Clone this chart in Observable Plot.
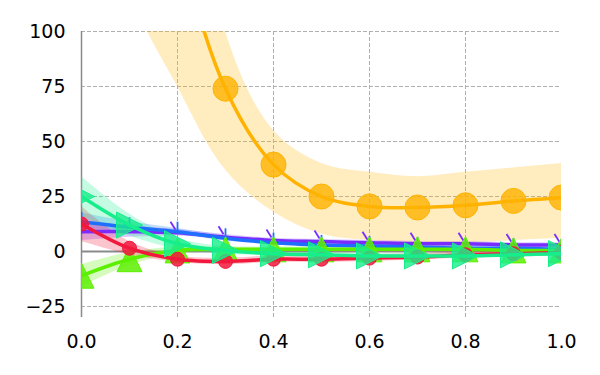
<!DOCTYPE html>
<html>
<head>
<meta charset="utf-8">
<script src="https://cdn.jsdelivr.net/npm/d3@7"></script>
<script src="https://cdn.jsdelivr.net/npm/@observablehq/plot@0.6"></script>
<style>
  html, body { margin: 0; padding: 0; background: #fff; }
  #chart { width: 600px; height: 375px; }
</style>
</head>
<body>
<div id="chart"></div>
<script>
// ---- data ----
const xs = [0, 0.1, 0.2, 0.3, 0.4, 0.5, 0.6, 0.7, 0.8, 0.9, 1.0];
const xTicks = [0, 0.2, 0.4, 0.6, 0.8, 1.0];
const yTicks = [-25, 0, 25, 50, 75, 100];

const orangeY  = [420, 260, 145, 74, 39.5, 25, 20.5, 20, 21, 23, 24.5];
const orangeLo = [250, 120, 75, 37, 18, 8, 5, 4, 4, 5, 6];
const orangeHi = [600, 400, 230, 100, 55, 40, 36, 34, 36, 38, 40];

const purpleY   = [9, 9, 8.5, 6.5, 5, 4.5, 4, 3.5, 3.5, 3, 3];
const purpleErr = [4, 2.5, 1.5, 1.2, 1, 1, 1, 1, 1, 1, 1];

const blueY   = [13.5, 11, 9, 6, 4, 3, 2.5, 2, 1.5, 1.5, 1];
const blueErr = [4, 2.5, 1.5, 1.2, 1, 1, 1, 1, 1, 1, 1];

const limeY   = [-11, -3.5, 0.5, 1, 1, 1, 1, 1, 1, 0.5, 0.5];
const limeErr = [5, 3, 1.5, 1, 1, 1, 1, 1, 1, 1, 1];

const redY   = [12.5, 1.5, -3.5, -4.5, -3.5, -3.5, -3, -2.5, -1.5, -1, -0.5];
const redErr = [8, 3, 1.5, 1.5, 1.5, 1.5, 1.5, 1.5, 1.5, 1.5, 1.5];

const springY   = [25, 12, 3.5, 0.5, -1, -1.5, -2, -2, -2, -1.5, -1];
const springErr = [9, 5, 2.5, 1.5, 1, 1, 1, 1, 1, 1, 1];

// ---- custom symbols (size = pi r^2) ----
const half = size => Math.sqrt(size / Math.PI);
const triUp = { draw(ctx, size) { const s = half(size);
  ctx.moveTo(0, -s); ctx.lineTo(-s, s); ctx.lineTo(s, s); ctx.closePath(); } };
const triRight = { draw(ctx, size) { const s = half(size);
  ctx.moveTo(s, 0); ctx.lineTo(-s, -s); ctx.lineTo(-s, s); ctx.closePath(); } };
const spokeUp = { draw(ctx, size) { const s = half(size);
  ctx.moveTo(0, 0); ctx.lineTo(0, -s); } };
const spokeUL = { draw(ctx, size) { const s = half(size);
  ctx.moveTo(-0.2 * s, -0.3 * s); ctx.lineTo(-0.7 * s, -1.1 * s); } };

function rows(y, lo, hi) {
  return xs.map((x, i) => ({ x, y: y[i], lo: lo[i], hi: hi[i] }));
}
const series = [
  { color: "#ffb300", data: rows(orangeY, orangeLo, orangeHi), symbol: "circle", r: 12.5, fo: 0.8, sw: 1 },
  { color: "#7a2cff", data: rows(purpleY, purpleY.map((v, i) => v - purpleErr[i]), purpleY.map((v, i) => v + purpleErr[i])), symbol: spokeUL, r: 10, line: true },
  { color: "#1f6fff", data: rows(blueY, blueY.map((v, i) => v - blueErr[i]), blueY.map((v, i) => v + blueErr[i])), symbol: spokeUp, r: 10, line: true },
  { color: "#5cf000", data: rows(limeY, limeY.map((v, i) => v - limeErr[i]), limeY.map((v, i) => v + limeErr[i])), symbol: triUp, r: 12.5, fo: 0.85, sw: 1 },
  { color: "#f2183d", data: rows(redY, redY.map((v, i) => v - redErr[i]), redY.map((v, i) => v + redErr[i])), symbol: "circle", r: 7, fo: 0.85, sw: 1 },
  { color: "#16ee8c", data: rows(springY, springY.map((v, i) => v - springErr[i]), springY.map((v, i) => v + springErr[i])), symbol: triRight, r: 13, fo: 0.8, sw: 1 }
];

const marks = [
  Plot.ruleY([-25, 25, 50, 75, 100], { stroke: "#b0b0b0", strokeWidth: 1, strokeDasharray: "4,2" }),
  Plot.ruleX([0.2, 0.4, 0.6, 0.8], { stroke: "#b0b0b0", strokeWidth: 1, strokeDasharray: "4,2" }),
  Plot.ruleY([0], { stroke: "#8a8a8a", strokeWidth: 2 }),
  Plot.ruleX([0], { stroke: "#8a8a8a", strokeWidth: 1.5 })
];
for (const s of series) {
  marks.push(Plot.areaY(s.data, { x: "x", y1: "lo", y2: "hi", fill: s.color, fillOpacity: 0.25, curve: "catmull-rom", clip: true }));
}
for (const s of series) {
  marks.push(Plot.line(s.data, { x: "x", y: "y", stroke: s.color, strokeWidth: 3.5, curve: "catmull-rom", clip: true }));
  if (s.line) {
    marks.push(Plot.dot(s.data, { x: "x", y: "y", symbol: s.symbol, r: s.r, fill: "none", stroke: s.color, strokeWidth: 1.8, clip: true }));
  } else {
    marks.push(Plot.dot(s.data, { x: "x", y: "y", symbol: s.symbol, r: s.r, fill: s.color, fillOpacity: s.fo, stroke: s.color, strokeWidth: s.sw, clip: true }));
  }
}

const chart = Plot.plot({
  width: 600,
  height: 375,
  marginLeft: 81,
  marginRight: 39,
  marginTop: 31,
  marginBottom: 58,
  style: { fontFamily: "DejaVu Sans", fontSize: "19px", color: "#000", background: "#fff" },
  x: { domain: [0, 1], ticks: xTicks, tickFormat: d3.format(".1f"), tickSize: 0, tickPadding: 17, label: null },
  y: { domain: [-30, 100], ticks: yTicks, tickSize: 0, tickPadding: 16, label: null },
  marks
});
document.getElementById("chart").appendChild(chart);
</script>
</body>
</html>
